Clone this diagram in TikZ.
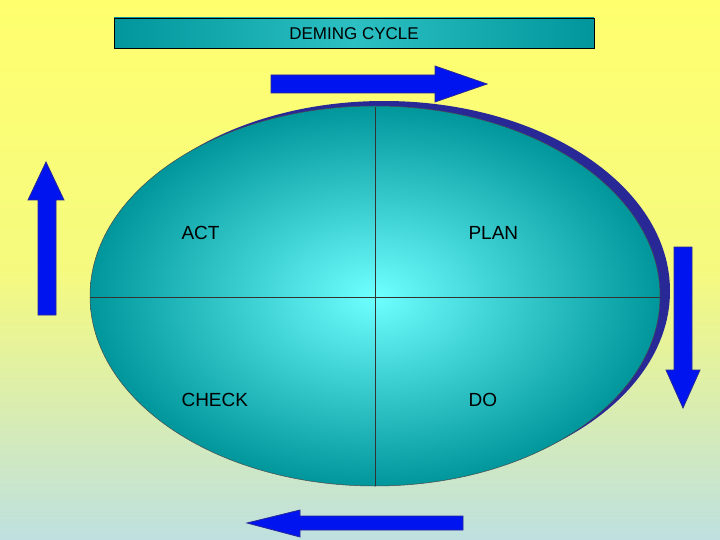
\documentclass[tikz,border=0pt]{standalone}
\usepackage{fontspec}
\setmainfont{Liberation Sans}
\usetikzlibrary{shadings}
\definecolor{bgb}{RGB}{190,224,224}
\definecolor{yel}{RGB}{255,255,110}
\definecolor{tealE}{RGB}{0,150,155}
\definecolor{cyanC}{RGB}{110,255,255}
\definecolor{arrB}{RGB}{0,20,240}
\definecolor{navyS}{RGB}{40,40,150}
\tikzset{arr/.style={fill=arrB,draw=navyS,line width=0.8pt},lbl/.style={font=\fontsize{19}{22}\selectfont,anchor=west}}
\begin{document}
\begin{tikzpicture}[x=1pt,y=-1pt]
\useasboundingbox (0,0) rectangle (720,540);
\shade[top color=yel,bottom color=bgb,middle color=yel!85!bgb] (0,0) rectangle (720,540);
\fill[navyS] (384,291) ellipse [x radius=286,y radius=190];
\shade[inner color=cyanC,outer color=tealE,draw=black!70,line width=0.5pt] (375,296) ellipse [x radius=285,y radius=190];
\node[inner sep=0] (e) at (375,296) {};
\draw[black!80,line width=0.6pt] (375,107) -- (375,486);
\draw[black!80,line width=0.6pt] (90,297) -- (660,297);
\node[lbl] (act) at (178,233) {ACT};
\node[lbl] (plan) at (465,233) {PLAN};
\node[lbl] (check) at (178,400) {CHECK};
\node[lbl] (do) at (465,400) {DO};
\shade[left color=tealE,right color=tealE,middle color=tealE!60!cyanC,draw=black,line width=0.6pt] (114,18) rectangle (594,48);
\node[text=black,font=\fontsize{17}{19}\selectfont] (title) at (354,34) {DEMING CYCLE};
\draw[arr] (271,75) -- (435,75) -- (435,66) -- (487,84) -- (435,102) -- (435,93) -- (271,93) -- cycle;
\draw[arr] (38,315) -- (38,200) -- (28,200) -- (46,162) -- (64,200) -- (56,200) -- (56,315) -- cycle;
\draw[arr] (674,247) -- (692,247) -- (692,370) -- (700,370) -- (683,408) -- (666,370) -- (674,370) -- cycle;
\draw[arr] (463,516) -- (300,516) -- (300,510) -- (247,523) -- (300,537) -- (300,530) -- (463,530) -- cycle;
\end{tikzpicture}
\end{document}
